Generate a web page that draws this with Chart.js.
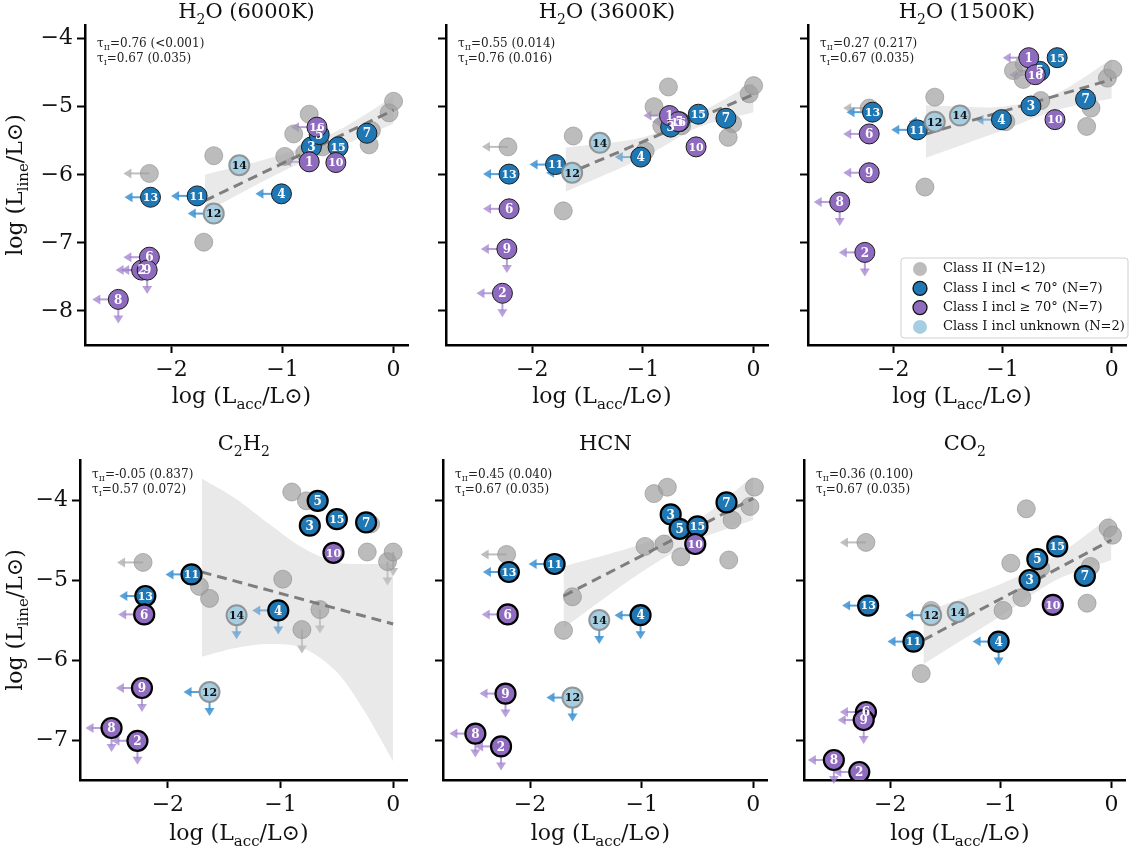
<!DOCTYPE html>
<html>
<head>
<meta charset="utf-8">
<script src="https://cdn.jsdelivr.net/npm/chart.js@4"></script>
<style>
  body { margin: 0; background: #fff; }
  #wrap { position: relative; width: 1138px; height: 848px; }
  canvas { position: absolute; }
</style>
</head>
<body>
<div id="wrap"></div>
<script>
// ---- data: [x, y, flags]  flags: l = upper limit on Lacc (arrow left), d = upper limit on Lline (arrow down)
var blueIds = [3, 4, 5, 7, 11, 13, 15];
var purpleIds = [1, 2, 6, 8, 9, 10, 16];
var lightIds = [12, 14];
var xTicks = [-2, -1, 0];
var yTicksTop = [-8, -7, -6, -5, -4];
var yTicksBottom = [-7, -6, -5, -4];

// H2O 6000K
var h6000Gray = [[-2.2,-5.98,'l'],[-1.62,-5.72],[-1.71,-6.99],[-0.98,-5.73],[-0.9,-5.40],[-0.76,-5.11],[-0.8,-5.68],[-0.64,-5.59],[-0.2,-5.35],[-0.22,-5.56],[-0.04,-5.09],[0.0,-4.92]];
var h6000Cls1 = [[1,-0.76,-5.81,'l'],[2,-2.27,-7.40,'l'],[3,-0.74,-5.59],[4,-1.01,-6.28,'l'],[5,-0.67,-5.41],[6,-2.2,-7.21,'l'],[7,-0.24,-5.39],[8,-2.48,-7.83,'ld'],[9,-2.22,-7.40,'ld'],[10,-0.52,-5.82],[11,-1.77,-6.31,'l'],[12,-1.62,-6.57,'l'],[13,-2.19,-6.33,'l'],[14,-1.39,-5.86],[15,-0.5,-5.59],[16,-0.69,-5.30,'l']];
var h6000Fit = [[-1.7,-6.38],[0,-5.05]];
var h6000Band = [[-1.7,-6.55,-6.0],[-1.0,-5.95,-5.7],[-0.5,-5.6,-5.35],[0,-5.25,-4.85]];
// H2O 3600K
var h3600Gray = [[-2.22,-5.59,'l'],[-1.63,-5.43],[-1.72,-6.53],[-0.98,-5.65],[-0.9,-5.0],[-0.77,-4.71],[-0.83,-5.28],[-0.65,-5.28],[-0.19,-5.25],[-0.23,-5.45],[-0.04,-4.81],[0.0,-4.69]];
var h3600Cls1 = [[1,-0.76,-5.13,'l'],[2,-2.27,-7.74,'ld'],[3,-0.75,-5.30],[4,-1.02,-5.74,'l'],[5,-0.67,-5.22],[6,-2.21,-6.5,'l'],[7,-0.25,-5.17],[9,-2.23,-7.09,'ld'],[10,-0.52,-5.59],[11,-1.79,-5.85,'l'],[12,-1.64,-5.97,'l'],[13,-2.21,-5.99,'l'],[14,-1.39,-5.53],[15,-0.5,-5.11],[16,-0.68,-5.22,'l']];
var h3600Fit = [[-1.7,-6.0],[0,-4.82]];
var h3600Band = [[-1.7,-6.25,-5.6],[-1.0,-5.75,-5.45],[-0.5,-5.3,-5.1],[0,-5.08,-4.65]];
// H2O 1500K
var h1500Gray = [[-2.22,-5.02,'l'],[-1.62,-4.86],[-1.71,-6.18],[-0.97,-5.22],[-0.9,-4.47],[-0.8,-4.37],[-0.81,-4.6],[-0.65,-4.91],[-0.19,-5.02],[-0.23,-5.29],[-0.04,-4.58],[0.01,-4.45]];
var h1500Cls1 = [[1,-0.76,-4.28,'l'],[2,-2.26,-7.14,'ld'],[3,-0.74,-4.99],[4,-1.01,-5.19,'l'],[5,-0.66,-4.48],[6,-2.22,-5.40,'l'],[7,-0.24,-4.89],[8,-2.49,-6.40,'ld'],[9,-2.22,-5.97,'l'],[10,-0.52,-5.19],[11,-1.78,-5.34,'l'],[12,-1.62,-5.22,'l'],[13,-2.19,-5.08,'l'],[14,-1.39,-5.13],[15,-0.5,-4.28],[16,-0.7,-4.53,'l']];
var h1500Fit = [[-1.7,-5.4],[0,-4.6]];
var h1500Band = [[-1.7,-5.75,-4.98],[-1.0,-5.35,-5.0],[-0.5,-5.05,-4.8],[0,-4.88,-4.3]];
// C2H2
var c2h2Gray = [[-2.22,-4.78,'l'],[-1.72,-5.08],[-1.63,-5.23],[-0.98,-4.99],[-0.9,-3.9],[-0.77,-4.01],[-0.65,-5.37,'d'],[-0.81,-5.62,'d'],[-0.23,-4.65],[-0.05,-4.77,'d'],[0.0,-4.65,'d'],[-0.2,-4.3]];
var c2h2Cls1 = [[2,-2.27,-7.01,'ld'],[3,-0.74,-4.32],[4,-1.02,-5.38,'ld'],[5,-0.67,-4.01],[6,-2.21,-5.43,'l'],[7,-0.24,-4.28],[8,-2.5,-6.85,'ld'],[9,-2.23,-6.35,'ld'],[10,-0.53,-4.66],[11,-1.79,-4.93,'l'],[12,-1.63,-6.4,'ld'],[13,-2.2,-5.2,'l'],[14,-1.39,-5.44,'d'],[15,-0.5,-4.24]];
var c2h2Fit = [[-1.7,-4.9],[0,-5.55]];
var c2h2Band = [[-1.7,-5.96,-3.73],[-1.4,-5.85,-3.98],[-1.1,-5.8,-4.3],[-0.8,-5.85,-4.6],[-0.5,-6.15,-4.78],[-0.25,-6.65,-4.8],[0,-7.27,-4.8]];
// HCN
var hcnGray = [[-2.21,-4.68,'l'],[-1.62,-5.21],[-1.7,-5.63],[-0.97,-4.58],[-0.89,-3.92],[-0.77,-3.84],[-0.8,-4.55],[-0.65,-4.71],[-0.19,-4.25],[-0.22,-4.75],[-0.03,-4.08],[0.01,-3.84]];
var hcnCls1 = [[2,-2.26,-7.08,'ld'],[3,-0.74,-4.18],[4,-1.01,-5.44,'ld'],[5,-0.66,-4.36],[6,-2.2,-5.43,'l'],[7,-0.24,-4.03],[8,-2.49,-6.92,'ld'],[9,-2.22,-6.42,'ld'],[10,-0.52,-4.55],[11,-1.78,-4.8,'l'],[12,-1.62,-6.47,'ld'],[13,-2.19,-4.9,'l'],[14,-1.38,-5.5,'d'],[15,-0.5,-4.33]];
var hcnFit = [[-1.7,-5.2],[0,-3.98]];
var hcnBand = [[-1.7,-5.6,-4.83],[-1.0,-4.9,-4.55],[-0.5,-4.5,-4.25],[0,-4.25,-3.7]];
// CO2
var co2Gray = [[-2.22,-4.53,'l'],[-1.63,-5.38],[-1.72,-6.17],[-0.98,-5.38],[-0.91,-4.79],[-0.77,-4.11],[-0.81,-5.22],[-0.64,-4.85],[-0.19,-4.83],[-0.22,-5.29],[-0.03,-4.35],[0.01,-4.44]];
var co2Cls1 = [[2,-2.28,-7.4,'l'],[3,-0.74,-5.0],[4,-1.02,-5.77,'ld'],[5,-0.67,-4.74],[6,-2.22,-6.65,'l'],[7,-0.24,-4.95],[8,-2.51,-7.25,'ld'],[9,-2.24,-6.75,'ld'],[10,-0.53,-5.31],[11,-1.79,-5.77,'l'],[12,-1.63,-5.44,'l'],[13,-2.2,-5.32,'l'],[14,-1.39,-5.4],[15,-0.49,-4.58]];
var co2Fit = [[-1.7,-5.75],[0,-4.5]];
var co2Band = [[-1.7,-6.05,-5.4],[-1.0,-5.45,-5.05],[-0.5,-5.0,-4.7],[0,-4.75,-4.2]];

var panels = [
  {title:['H',{s:'2'},'O (6000K)'], tau:['0.76 (<0.001)','0.67 (0.035)'], gray:h6000Gray, cls:h6000Cls1, fit:h6000Fit, band:h6000Band, row:0, col:0},
  {title:['H',{s:'2'},'O (3600K)'], tau:['0.55 (0.014)','0.76 (0.016)'], gray:h3600Gray, cls:h3600Cls1, fit:h3600Fit, band:h3600Band, row:0, col:1},
  {title:['H',{s:'2'},'O (1500K)'], tau:['0.27 (0.217)','0.67 (0.035)'], gray:h1500Gray, cls:h1500Cls1, fit:h1500Fit, band:h1500Band, row:0, col:2, legend:true},
  {title:['C',{s:'2'},'H',{s:'2'}], tau:['-0.05 (0.837)','0.57 (0.072)'], gray:c2h2Gray, cls:c2h2Cls1, fit:c2h2Fit, band:c2h2Band, row:1, col:0},
  {title:['HCN'], tau:['0.45 (0.040)','0.67 (0.035)'], gray:hcnGray, cls:hcnCls1, fit:hcnFit, band:hcnBand, row:1, col:1},
  {title:['CO',{s:'2'}], tau:['0.36 (0.100)','0.67 (0.035)'], gray:co2Gray, cls:co2Cls1, fit:co2Fit, band:co2Band, row:1, col:2}
];

// canvas boxes: [left, top, width, height, yAxisWidth, padTop, padRight, xAxisHeight]
var boxes = [
  [[0,0,420,425,85,25,10,80],[420,0,360,425,26,25,7,80],[780,0,358,425,28,25,8,80]],
  [[0,425,420,423,80,35,10,68],[420,425,360,423,23,35,10,68],[780,425,358,423,24,35,8,68]]
];

var SERIF = '"DejaVu Serif", "Liberation Serif", serif';
var COL = {blue:'#1f77b4', purple:'#8e6bbf', light:'#a6cee3', gray:'rgba(160,160,160,0.7)'};
var ARROW = {blue:'rgba(60,145,210,0.85)', purple:'rgba(160,130,205,0.75)', light:'rgba(60,145,210,0.85)', gray:'rgba(175,175,175,0.8)'};

function kind(id) {
  if (blueIds.indexOf(id) >= 0) return 'blue';
  if (purpleIds.indexOf(id) >= 0) return 'purple';
  return 'light';
}

function drawRich(ctx, parts, x, y, size, align) {
  var subSize = Math.round(size * 0.68);
  var w = 0;
  parts.forEach(function (p) {
    ctx.font = (typeof p === 'string' ? size : subSize) + 'px ' + SERIF;
    w += ctx.measureText(typeof p === 'string' ? p : p.s).width;
  });
  var cx = align === 'center' ? x - w / 2 : x;
  ctx.textAlign = 'left';
  ctx.textBaseline = 'alphabetic';
  parts.forEach(function (p) {
    var t = typeof p === 'string' ? p : p.s;
    ctx.font = (typeof p === 'string' ? size : subSize) + 'px ' + SERIF;
    ctx.fillText(t, cx, typeof p === 'string' ? y : y + size * 0.28);
    cx += ctx.measureText(t).width;
  });
}

function arrowLeft(ctx, x, y, color) {
  ctx.strokeStyle = color; ctx.fillStyle = color; ctx.lineWidth = 2;
  ctx.beginPath(); ctx.moveTo(x, y); ctx.lineTo(x - 20, y); ctx.stroke();
  ctx.beginPath(); ctx.moveTo(x - 26, y); ctx.lineTo(x - 18, y - 5); ctx.lineTo(x - 18, y + 5); ctx.closePath(); ctx.fill();
}
function arrowDown(ctx, x, y, color) {
  ctx.strokeStyle = color; ctx.fillStyle = color; ctx.lineWidth = 2;
  ctx.beginPath(); ctx.moveTo(x, y); ctx.lineTo(x, y + 18); ctx.stroke();
  ctx.beginPath(); ctx.moveTo(x, y + 24); ctx.lineTo(x - 5, y + 16); ctx.lineTo(x + 5, y + 16); ctx.closePath(); ctx.fill();
}

var deco = {
  id: 'deco',
  beforeDatasetsDraw: function (chart) {
    var p = chart.options.plugins.deco.panel;
    var ctx = chart.ctx, xs = chart.scales.x, ys = chart.scales.y;
    ctx.save();
    p.gray.forEach(function (g) {
      var f = g[2] || '', px = xs.getPixelForValue(g[0]), py = ys.getPixelForValue(g[1]);
      if (f.indexOf('l') >= 0) arrowLeft(ctx, px, py, ARROW.gray);
      if (f.indexOf('d') >= 0) arrowDown(ctx, px, py, ARROW.gray);
    });
    p.cls.forEach(function (c) {
      var f = c[3] || '', k = kind(c[0]), px = xs.getPixelForValue(c[1]), py = ys.getPixelForValue(c[2]);
      if (f.indexOf('l') >= 0) arrowLeft(ctx, px, py, ARROW[k]);
      if (f.indexOf('d') >= 0) arrowDown(ctx, px, py, ARROW[k]);
    });
    ctx.restore();
  },
  afterDatasetsDraw: function (chart) {
    var p = chart.options.plugins.deco.panel;
    var ctx = chart.ctx, xs = chart.scales.x, ys = chart.scales.y;
    ctx.save();
    ctx.textAlign = 'center'; ctx.textBaseline = 'middle';
    p.cls.forEach(function (c) {
      var k = kind(c[0]);
      ctx.font = 'bold ' + (c[0] > 9 ? 11 : 12) + 'px ' + SERIF;
      ctx.fillStyle = k === 'light' ? '#111' : '#fff';
      ctx.fillText(String(c[0]), xs.getPixelForValue(c[1]), ys.getPixelForValue(c[2]) + 1);
    });
    ctx.restore();
  },
  afterDraw: function (chart) {
    var p = chart.options.plugins.deco.panel;
    var ctx = chart.ctx, a = chart.chartArea;
    ctx.save();
    ctx.fillStyle = '#111';
    drawRich(ctx, p.title, (a.left + a.right) / 2, a.top - (p.row ? 10 : 7), 21, 'center');
    ctx.fillStyle = '#222';
    var ty = a.top + (p.row ? 18 : 22);
    drawRich(ctx, ['τ', {s:'II'}, '=' + p.tau[0]], a.left + 12, ty, 12, 'left');
    drawRich(ctx, ['τ', {s:'I'}, '=' + p.tau[1]], a.left + 12, ty + 15, 12, 'left');
    ctx.fillStyle = '#111';
    drawRich(ctx, ['log (L', {s:'acc'}, '/L⊙)'], (a.left + a.right) / 2 - 5, chart.height - (p.row ? 8 : 22), 22, 'center');
    if (p.col === 0) {
      ctx.save();
      ctx.translate(22, (a.top + a.bottom) / 2);
      ctx.rotate(-Math.PI / 2);
      drawRich(ctx, ['log (L', {s:'line'}, '/L⊙)'], 0, 0, 22, 'center');
      ctx.restore();
    }
    if (p.legend) {
      var lx = a.left + 93, ly = a.bottom - 87, lw = 227, lh = 80;
      ctx.fillStyle = 'rgba(255,255,255,0.85)'; ctx.strokeStyle = '#d0d0d0'; ctx.lineWidth = 1;
      ctx.beginPath(); ctx.roundRect(lx, ly, lw, lh, 3); ctx.fill(); ctx.stroke();
      var items = [
        ['Class II (N=12)', COL.gray, null],
        ['Class I incl < 70° (N=7)', COL.blue, '#111'],
        ['Class I incl ≥ 70° (N=7)', COL.purple, '#111'],
        ['Class I incl unknown (N=2)', COL.light, null]
      ];
      items.forEach(function (it, i) {
        var yy = ly + 11 + i * 19.3;
        ctx.beginPath(); ctx.arc(lx + 19, yy, 7, 0, Math.PI * 2);
        ctx.fillStyle = it[1]; ctx.fill();
        if (it[2]) { ctx.strokeStyle = it[2]; ctx.lineWidth = 1.3; ctx.stroke(); }
        ctx.fillStyle = '#111'; ctx.font = '13px ' + SERIF; ctx.textAlign = 'left'; ctx.textBaseline = 'middle';
        ctx.fillText(it[0], lx + 42, yy);
      });
    }
    ctx.restore();
  }
};

function tickLabel(v) { return v < 0 ? '−' + Math.abs(v) : String(v); }

panels.forEach(function (p) {
  var b = boxes[p.row][p.col];
  var cv = document.createElement('canvas');
  cv.width = b[2]; cv.height = b[3];
  cv.style.left = b[0] + 'px'; cv.style.top = b[1] + 'px';
  cv.style.width = b[2] + 'px'; cv.style.height = b[3] + 'px';
  document.getElementById('wrap').appendChild(cv);

  var edge = p.row ? '#000' : '#1a1a1a', edgeW = p.row ? 2.2 : 1;
  // lower "order" is drawn on top
  var clsSets = ['blue', 'purple', 'light'].map(function (k, i) {
    return {
      type: 'scatter', order: 3 - i,
      data: p.cls.filter(function (c) { return kind(c[0]) === k; }).map(function (c) { return {x: c[1], y: c[2]}; }),
      backgroundColor: COL[k],
      borderColor: k === 'light' ? 'rgba(140,140,140,0.9)' : edge,
      borderWidth: k === 'light' ? 2 : edgeW,
      pointRadius: 10, pointHoverRadius: 10
    };
  });

  new Chart(cv.getContext('2d'), {
    type: 'scatter',
    data: {
      datasets: [
        {type: 'line', order: 10, data: p.band.map(function (r) { return {x: r[0], y: r[1]}; }), borderWidth: 0, pointRadius: 0, fill: false, tension: 0.3},
        {type: 'line', order: 9, data: p.band.map(function (r) { return {x: r[0], y: r[2]}; }), borderWidth: 0, pointRadius: 0, fill: '-1', backgroundColor: 'rgba(200,200,200,0.4)', tension: 0.3},
        {type: 'scatter', order: 8, data: p.gray.map(function (g) { return {x: g[0], y: g[1]}; }), backgroundColor: COL.gray, borderColor: 'rgba(140,140,140,0.6)', borderWidth: 1, pointRadius: 9},
        {type: 'line', order: 7, data: p.fit.map(function (r) { return {x: r[0], y: r[1]}; }), borderColor: 'rgba(120,120,120,0.95)', borderWidth: 3, borderDash: [10, 6], pointRadius: 0, fill: false}
      ].concat(clsSets)
    },
    options: {
      responsive: false, animation: false, devicePixelRatio: 1,
      layout: {padding: {top: b[5], right: b[6], left: 0, bottom: 0}},
      plugins: {legend: {display: false}, tooltip: {enabled: false}, deco: {panel: p}},
      scales: {
        x: {
          type: 'linear', min: -2.78, max: 0.13,
          afterBuildTicks: function (s) { s.ticks = xTicks.map(function (v) { return {value: v}; }); },
          afterFit: function (s) { s.height = b[7]; },
          grid: {drawOnChartArea: false, tickLength: 8, tickWidth: 2, tickColor: '#000'},
          border: {color: '#000', width: 2.5},
          ticks: {color: '#111', font: {family: SERIF, size: 22}, padding: 4, callback: tickLabel}
        },
        y: {
          type: 'linear', min: p.row ? -7.5 : -8.5, max: p.row ? -3.5 : -3.8,
          afterBuildTicks: function (s) { s.ticks = (p.row ? yTicksBottom : yTicksTop).map(function (v) { return {value: v}; }); },
          afterFit: function (s) { s.width = b[4]; },
          grid: {drawOnChartArea: false, tickLength: 8, tickWidth: 2, tickColor: '#000'},
          border: {color: '#000', width: 2.5},
          ticks: {display: p.col === 0, color: '#111', font: {family: SERIF, size: 22}, padding: 4, callback: tickLabel}
        }
      }
    },
    plugins: [deco]
  });
});
</script>
</body>
</html>
